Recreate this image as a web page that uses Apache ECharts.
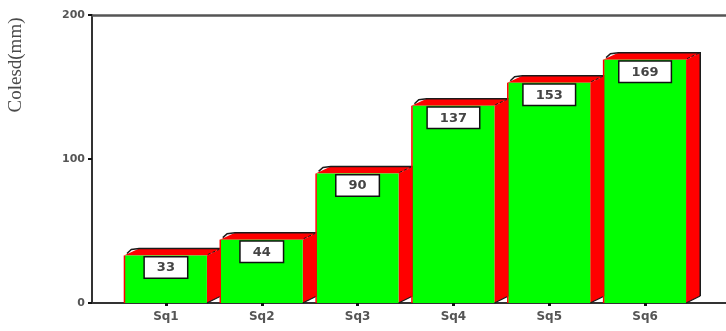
<!DOCTYPE html>
<html><head><meta charset="utf-8">
<script src="https://cdn.jsdelivr.net/npm/echarts@6/dist/echarts.min.js"></script>
<style>html,body{margin:0;padding:0;background:#fff}#c{width:726px;height:331px}</style>
</head><body><div id="c"></div>
<script>
const categories = ['Sq1','Sq2','Sq3','Sq4','Sq5','Sq6'];
const values = [33, 44, 90, 137, 153, 169];
const yTicks = [0, 100, 200];
const yTitle = 'Colesd(mm)';

const chart = echarts.init(document.getElementById('c'));
const GREEN = '#00ff00', RED = '#ff0000', EDGE = '#1a1a1a';

function renderItem(params, api) {
  const idx = api.value(0), v = api.value(1);
  const top = api.coord([idx, v]);
  const base = api.coord([idx, 0]);
  const cw = api.size([1, 0])[0];
  const bw = cw * 0.855;
  const dx = cw * 0.148, dy = 7;
  const x0 = top[0] - bw / 2, x1 = top[0] + bw / 2;
  const yt = top[1], y0 = base[1];
  return {
    type: 'group',
    children: [
      { type: 'polygon', shape: { points: [[x0 - 1, yt], [x0 + dx, yt - dy], [x1 + dx, yt - dy], [x1, yt]] },
        style: { fill: RED } },
      { type: 'polygon', shape: { points: [[x1, yt], [x1 + dx, yt - dy], [x1 + dx, y0 - dy], [x1, y0]] },
        style: { fill: RED } },
      { type: 'polyline', shape: { points: [[x0 + 2, yt - 2], [x0 + dx * 0.45, yt - dy + 1], [x0 + dx, yt - dy], [x1 + dx, yt - dy], [x1 + dx, y0 - dy]] },
        style: { stroke: EDGE, lineWidth: 1.5, fill: null } },
      { type: 'line', shape: { x1: x1 + 1, y1: yt - 1, x2: x1 + dx, y2: yt - dy },
        style: { stroke: EDGE, lineWidth: 1, lineDash: [3, 2] } },
      { type: 'line', shape: { x1: x1, y1: y0, x2: x1 + dx, y2: y0 - dy },
        style: { stroke: EDGE, lineWidth: 1.2 } },
      { type: 'rect', shape: { x: x0, y: yt, width: bw, height: y0 - yt },
        style: { fill: GREEN } },
      { type: 'line', shape: { x1: x0 - 0.5, y1: yt, x2: x0 - 0.5, y2: y0 },
        style: { stroke: RED, lineWidth: 1.5 } },
      { type: 'text', x: top[0], y: yt + 2,
        style: { text: String(v), align: 'center', verticalAlign: 'top',
          font: 'bold 13px "DejaVu Sans"', fill: '#444',
          backgroundColor: '#fff', borderColor: '#111', borderWidth: 1.5,
          padding: [4, 12, 3, 12] } }
    ]
  };
}

chart.setOption({
  animation: false,
  grid: [
    { left: 118, right: 33, top: 15, bottom: 28 },
    { left: 92, right: 0, top: 15, bottom: 28 }
  ],
  xAxis: [
    { type: 'category', gridIndex: 0, data: categories,
      axisLine: { show: false },
      axisTick: { show: true, alignWithLabel: true, length: 3, lineStyle: { color: '#111', width: 3 } },
      axisLabel: { margin: 8, color: '#555', fontSize: 12, fontWeight: 'bold', fontFamily: 'DejaVu Sans' } },
    { type: 'value', gridIndex: 1, position: 'bottom', min: 0, max: 1,
      axisLine: { show: true, lineStyle: { color: '#333', width: 2 } },
      axisTick: { show: false }, axisLabel: { show: false }, splitLine: { show: false } },
    { type: 'value', gridIndex: 1, position: 'top', min: 0, max: 1,
      axisLine: { show: true, lineStyle: { color: '#555', width: 2.5 } },
      axisTick: { show: false }, axisLabel: { show: false }, splitLine: { show: false } }
  ],
  yAxis: [
    { type: 'value', gridIndex: 0, min: yTicks[0], max: yTicks[yTicks.length - 1], interval: yTicks[1] - yTicks[0],
      offset: 26,
      axisLine: { show: true, lineStyle: { color: '#333', width: 2 } },
      axisTick: { show: true, length: 4, lineStyle: { color: '#111', width: 2 } },
      axisLabel: { margin: 7, color: '#555', fontSize: 11, fontWeight: 'bold', fontFamily: 'DejaVu Sans' },
      splitLine: { show: false } },
    { type: 'value', gridIndex: 1, min: 0, max: 1, show: false }
  ],
  graphic: [
    { type: 'text', x: 16, y: 65, rotation: Math.PI / 2,
      style: { text: yTitle, align: 'center', verticalAlign: 'middle',
        font: '19px "Liberation Serif"', fill: '#4a4a4a' } }
  ],
  series: [
    { type: 'custom', xAxisIndex: 0, yAxisIndex: 0, renderItem: renderItem,
      data: values.map((v, i) => [i, v]), z: 1 }
  ]
});
</script></body></html>
